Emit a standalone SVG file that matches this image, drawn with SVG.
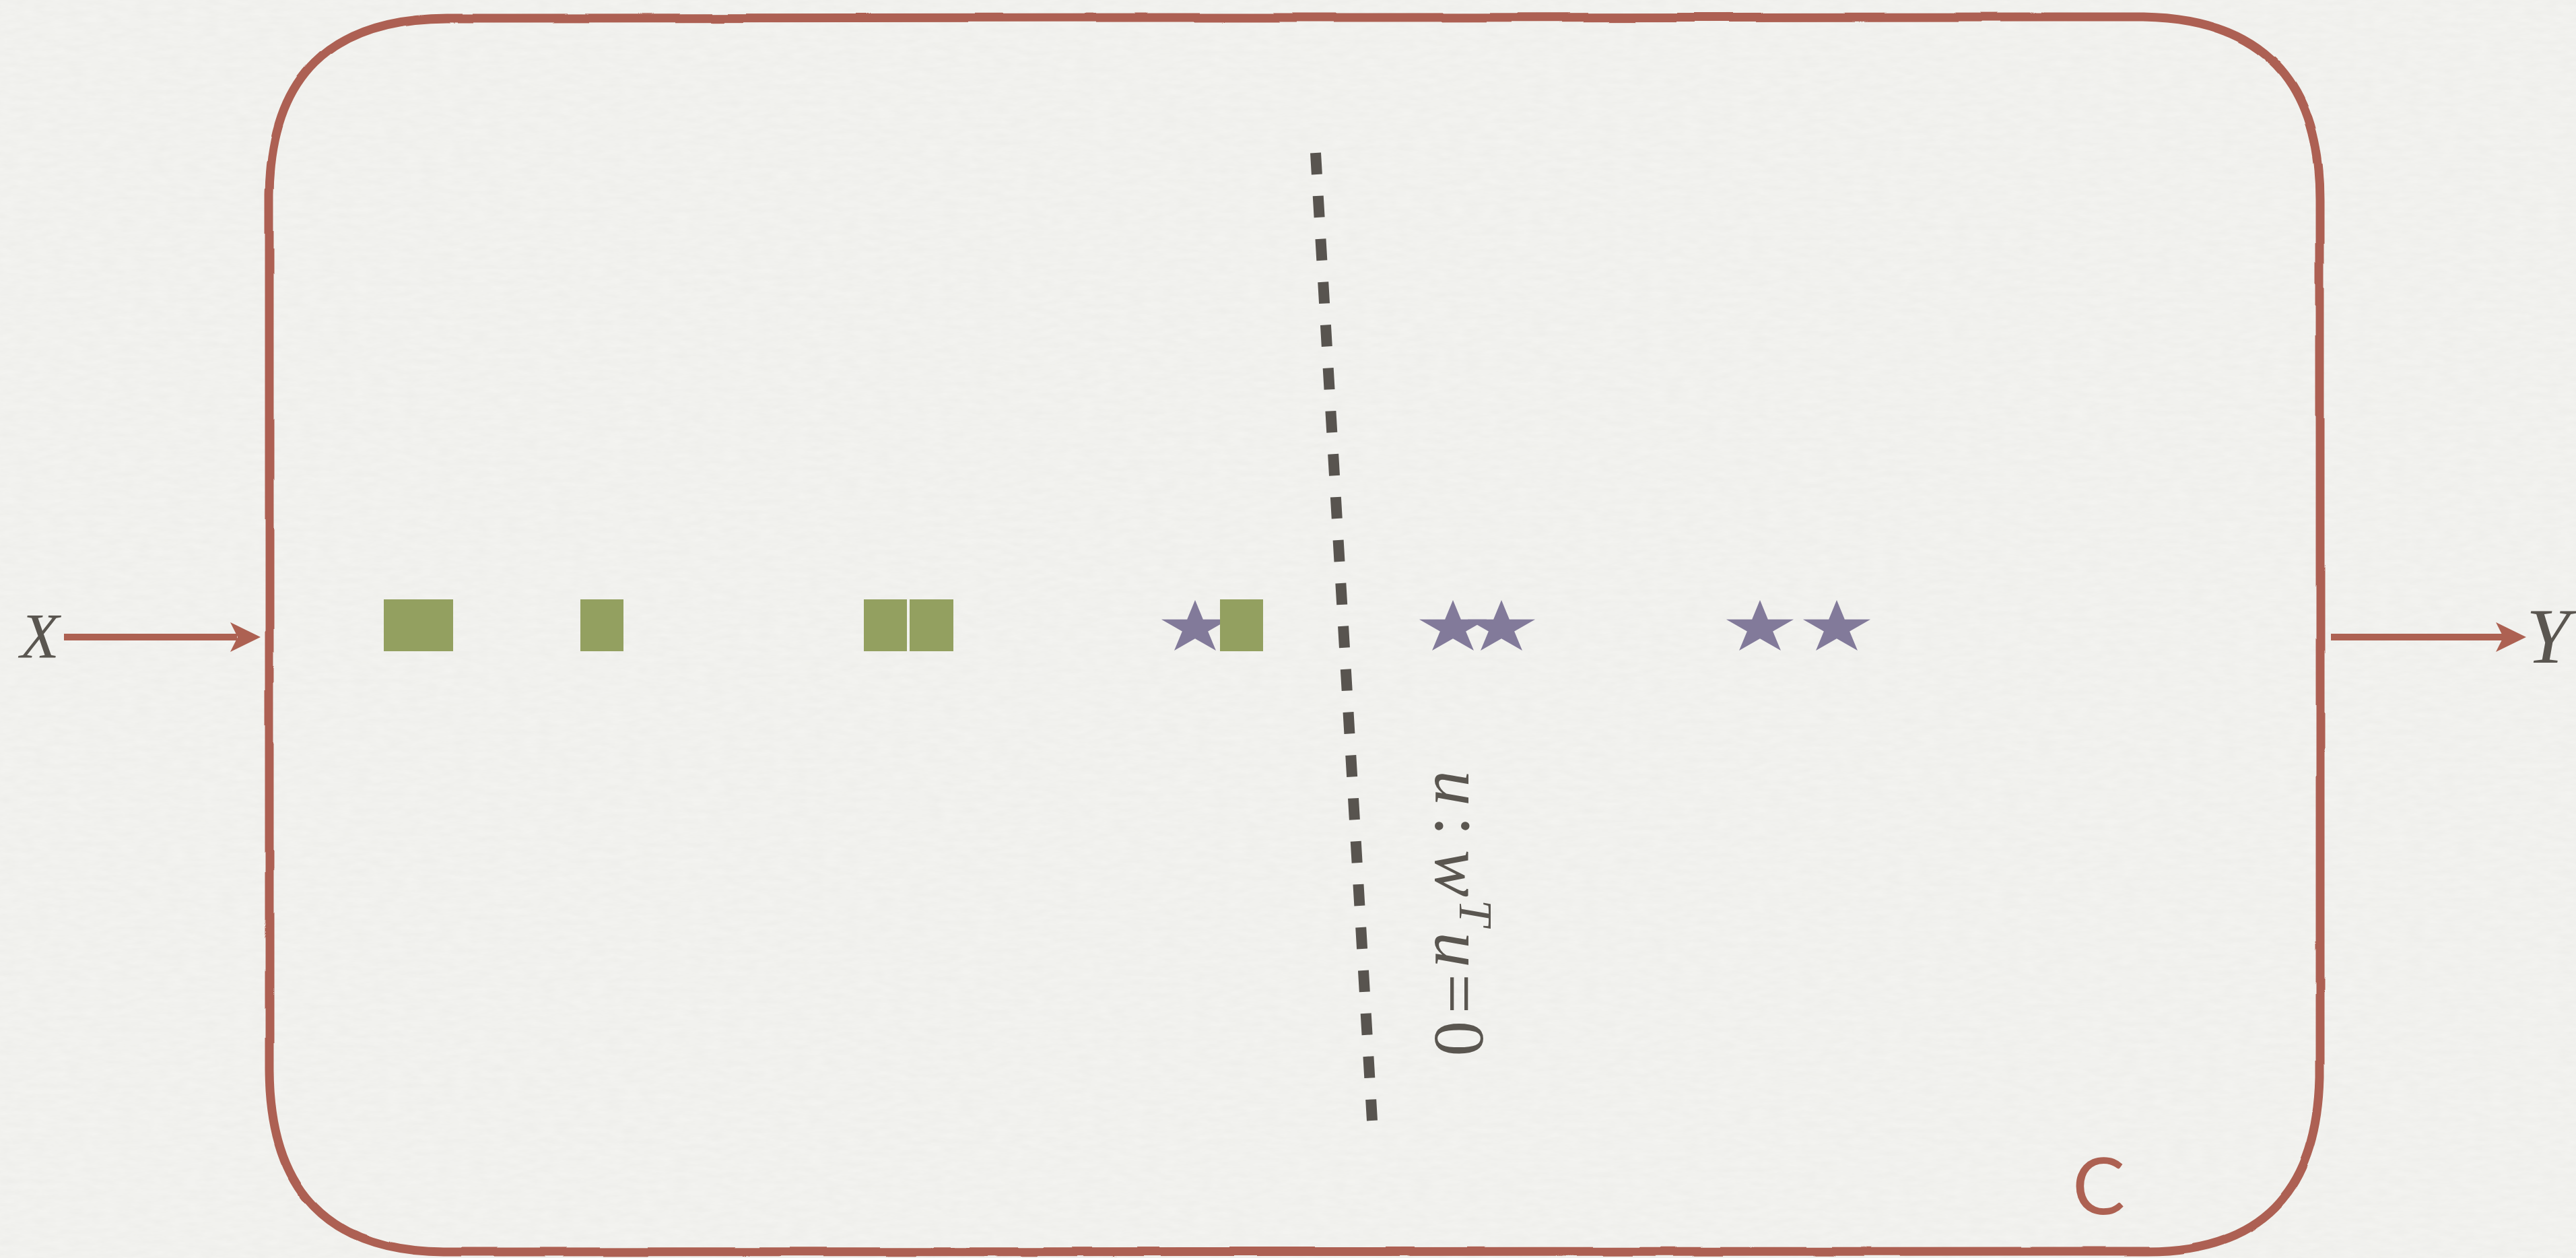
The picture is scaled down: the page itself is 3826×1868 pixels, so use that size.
<svg xmlns="http://www.w3.org/2000/svg" width="3826" height="1868" viewBox="0 0 3826 1868">
  <style>
    .red { stroke: #ad6152; fill: none; }
    .redfill { fill: #ad6152; }
    .sq { fill: #93a060; }
    .star { fill: #827a9a; }
    .math { font-family: "Liberation Serif", "DejaVu Serif", serif; fill: #5a5650; }
    .it { font-style: italic; }
    .lbl { font-family: "Lato", "Noto Sans", "Liberation Sans", sans-serif; fill: #ad6152; }
  </style>
  <defs>
    <path id="starShape" d="M0,-41.5 L11.84,-12.82 L50.1,-12.82 L19.14,4.9 L30.98,33.57 L0,15.85 L-30.98,33.57 L-19.14,4.9 L-50.1,-12.82 L-11.84,-12.82 Z"/>
    <filter id="wobble" x="-2%" y="-2%" width="104%" height="104%">
      <feTurbulence type="fractalNoise" baseFrequency="0.008" numOctaves="2" seed="5" result="n"/>
      <feDisplacementMap in="SourceGraphic" in2="n" scale="5" xChannelSelector="R" yChannelSelector="G"/>
    </filter>
    <filter id="paper" x="0" y="0" width="100%" height="100%">
      <feTurbulence type="fractalNoise" baseFrequency="0.04 0.12" numOctaves="3" seed="2" result="t"/>
      <feColorMatrix in="t" type="matrix" values="0 0 0 0 0.45  0 0 0 0 0.45  0 0 0 0 0.42  0 0 0 0.10 0"/>
    </filter>
  </defs>

  <rect x="0" y="0" width="3826" height="1868" fill="#f4f4f1"/>
  <rect x="0" y="0" width="3826" height="1868" filter="url(#paper)"/>

  <g id="box-C">
    <path class="red" stroke-width="13" filter="url(#wobble)"
      d="M665,27 L3183,25 Q3447,30 3446,300 L3446,1600 Q3440,1858 3190,1858 L660,1859 Q402,1858 400,1590 L400,290 Q402,28 665,27 Z"/>
    <text class="lbl" x="3078" y="1803" font-size="117">C</text>
  </g>

  <g id="class-squares">
    <rect class="sq" x="570" y="890" width="103" height="77"/>
    <rect class="sq" x="862" y="890" width="64" height="77"/>
    <rect class="sq" x="1283" y="890" width="64" height="77"/>
    <rect class="sq" x="1351" y="890" width="65" height="77"/>
  </g>

  <g id="class-stars">
    <use href="#starShape" class="star" x="1775" y="932.5"/>
    <use href="#starShape" class="star" x="2158" y="932.5"/>
    <use href="#starShape" class="star" x="2230" y="932.5"/>
    <use href="#starShape" class="star" x="2614" y="932.5"/>
    <use href="#starShape" class="star" x="2728" y="932.5"/>
  </g>
  <g id="square-near-boundary">
    <rect class="sq" x="1812" y="890" width="64" height="77"/>
  </g>

  <g id="hyperplane">
    <line x1="1954" y1="227" x2="2038" y2="1664" stroke="#58544f" stroke-width="16" stroke-dasharray="32 32"/>
    <text class="math" font-size="105" transform="translate(2132,0) rotate(90)"><tspan class="it" x="1144" y="0">u</tspan><tspan x="1212" y="0">:</tspan><tspan class="it" x="1262" y="0">w</tspan><tspan class="it" x="1336" y="-36" font-size="70">T</tspan><tspan class="it" x="1384" y="0">u</tspan><tspan x="1446" y="0">=</tspan><tspan x="1516" y="0">0</tspan></text>
  </g>

  <g id="label-X">
    <text class="math it" x="30" y="977" font-size="95">X</text>
  </g>
  <g id="label-Y">
    <text class="math it" x="3752" y="984" font-size="117">Y</text>
  </g>

  <g id="connectors">
    <line class="red" x1="95" y1="946" x2="352" y2="946" stroke-width="10"/>
    <path class="redfill" d="M387,946 L342,924 L353,946 L342,968 Z"/>
    <line class="red" x1="3462" y1="946" x2="3718" y2="946" stroke-width="10"/>
    <path class="redfill" d="M3752,946 L3707,924 L3718,946 L3707,968 Z"/>
  </g>
</svg>
